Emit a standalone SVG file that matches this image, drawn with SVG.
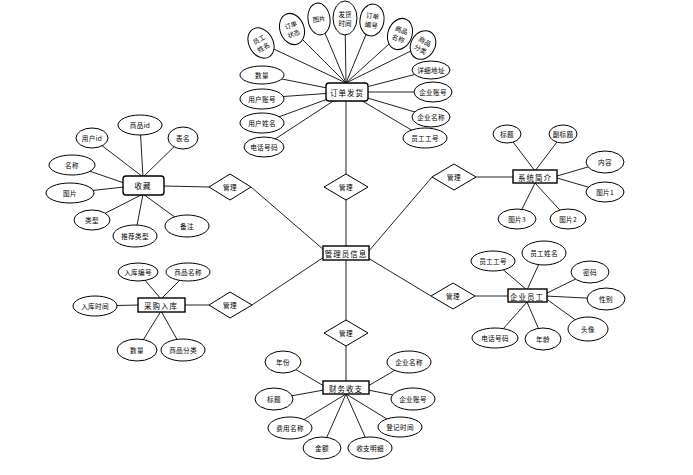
<svg xmlns="http://www.w3.org/2000/svg" width="693" height="475" viewBox="0 0 693 475">
<style>
text{font-family:"Noto Sans CJK SC","Liberation Sans",sans-serif;font-size:6.6px;letter-spacing:0.3px;fill:#000;text-anchor:middle;dominant-baseline:central}
.e{font-size:7.5px;letter-spacing:1px}
.s{font-family:"Liberation Serif","Noto Sans CJK SC",serif;font-size:6.5px;letter-spacing:0}
ellipse{fill:#fff;stroke:#000;stroke-width:1}
.ent{fill:#fff;stroke:#000;stroke-width:1.4}
.dia{fill:#fff;stroke:#000;stroke-width:1}
#connectors line{stroke:#222;stroke-width:1}
</style>
<rect width="693" height="475" fill="#fff"/>
<g id="connectors">
<line x1="261" y1="43" x2="346" y2="83"/><line x1="292" y1="29" x2="346" y2="83"/><line x1="319" y1="19" x2="346" y2="83"/><line x1="345" y1="19" x2="346" y2="83"/><line x1="372" y1="20" x2="346" y2="83"/><line x1="400" y1="34" x2="346" y2="83"/><line x1="423" y1="45" x2="346" y2="83"/>
<line x1="262" y1="75" x2="347" y2="92"/><line x1="262" y1="98" x2="347" y2="92"/><line x1="262" y1="123" x2="347" y2="92"/><line x1="263" y1="147" x2="347" y2="92"/>
<line x1="432" y1="70" x2="347" y2="92"/><line x1="433" y1="92" x2="347" y2="92"/><line x1="432" y1="117" x2="347" y2="92"/><line x1="425" y1="138" x2="347" y2="92"/>
<line x1="346" y1="100" x2="346" y2="247"/>
<line x1="346" y1="259" x2="346" y2="382"/>
<line x1="368" y1="252" x2="432" y2="177"/><line x1="476" y1="177" x2="513" y2="177"/>
<line x1="368" y1="258" x2="431" y2="296"/><line x1="475" y1="296" x2="510" y2="296"/>
<line x1="324" y1="250" x2="251" y2="187"/><line x1="209" y1="187" x2="164" y2="186"/>
<line x1="324" y1="257" x2="252" y2="305"/><line x1="209" y1="305" x2="185" y2="305"/>
<line x1="507" y1="134" x2="535" y2="171"/><line x1="563" y1="134" x2="535" y2="171"/><line x1="605" y1="162" x2="557" y2="176"/><line x1="605" y1="192" x2="557" y2="178"/><line x1="517" y1="219" x2="535" y2="183"/><line x1="568" y1="219" x2="535" y2="183"/>
<line x1="92" y1="138" x2="143" y2="177"/><line x1="140" y1="125" x2="143" y2="177"/><line x1="183" y1="138" x2="143" y2="177"/><line x1="72" y1="165" x2="124" y2="183"/><line x1="70" y1="193" x2="124" y2="187"/><line x1="92" y1="220" x2="143" y2="194"/><line x1="135" y1="236" x2="143" y2="194"/><line x1="187" y1="226" x2="143" y2="194"/>
<line x1="138" y1="272" x2="161" y2="299"/><line x1="188" y1="272" x2="161" y2="299"/><line x1="95" y1="306" x2="139" y2="305"/><line x1="137" y1="350" x2="161" y2="311"/><line x1="183" y1="350" x2="161" y2="311"/>
<line x1="493" y1="261" x2="527" y2="290"/><line x1="544" y1="253" x2="527" y2="290"/><line x1="590" y1="272" x2="545" y2="294"/><line x1="606" y1="299" x2="545" y2="296"/><line x1="588" y1="329" x2="545" y2="298"/><line x1="543" y1="339" x2="527" y2="302"/><line x1="495" y1="338" x2="527" y2="302"/>
<line x1="283" y1="362" x2="324" y2="386"/><line x1="274" y1="399" x2="324" y2="390"/><line x1="290" y1="428" x2="346" y2="394"/><line x1="322" y1="448" x2="346" y2="394"/><line x1="370" y1="448" x2="346" y2="394"/><line x1="400" y1="427" x2="346" y2="394"/><line x1="409" y1="362" x2="368" y2="386"/><line x1="413" y1="399" x2="368" y2="390"/>
</g>
<g id="order">
<rect class="ent" x="326" y="83" width="42" height="18" rx="3"/><text class="e" x="347" y="92">订单发货</text>
</g>
<g id="order-attrs">
<g transform="translate(261,43) rotate(-30)"><ellipse rx="12" ry="16"/><text class="s" y="-4">员工</text><text class="s" y="5">姓名</text></g>
<g transform="translate(292,29) rotate(-20)"><ellipse rx="12" ry="16"/><text class="s" y="-4">订单</text><text class="s" y="5">状态</text></g>
<g transform="translate(319,19) rotate(-8)"><ellipse rx="11" ry="16"/><text class="s">图片</text></g>
<g transform="translate(345,18)"><ellipse rx="12" ry="17"/><text class="s" y="-4">发货</text><text class="s" y="5">时间</text></g>
<g transform="translate(372,20) rotate(8)"><ellipse rx="12" ry="16"/><text class="s" y="-4">订单</text><text class="s" y="5">编号</text></g>
<g transform="translate(400,34) rotate(20)"><ellipse rx="12" ry="16"/><text class="s" y="-4">商品</text><text class="s" y="5">名称</text></g>
<g transform="translate(423,45) rotate(30)"><ellipse rx="12" ry="15"/><text class="s" y="-4">商品</text><text class="s" y="5">分类</text></g>
<ellipse cx="262" cy="75" rx="22" ry="9"/><text x="262" y="75">数量</text>
<ellipse cx="262" cy="99" rx="22" ry="10"/><text x="262" y="99">用户账号</text>
<ellipse cx="262" cy="123" rx="22" ry="10"/><text x="262" y="123">用户姓名</text>
<ellipse cx="264" cy="147" rx="20" ry="10"/><text x="264" y="147">电话号码</text>
<ellipse cx="431" cy="70" rx="19" ry="9"/><text x="431" y="70">详细地址</text>
<ellipse cx="433" cy="92" rx="19" ry="10"/><text x="433" y="92">企业账号</text>
<ellipse cx="431" cy="117" rx="19" ry="10"/><text x="431" y="117">企业名称</text>
<ellipse cx="425" cy="138" rx="22" ry="10"/><text x="425" y="138">员工工号</text>
</g>
<g id="admin">
<rect class="ent" x="323" y="246" width="46" height="14"/><text class="e" x="346" y="253">管理员信息</text>
</g>
<g id="rel-top"><polygon class="dia" points="346,174 368,187 346,200 324,187"/><text x="346" y="187">管理</text></g>
<g id="rel-intro"><polygon class="dia" points="454,164 476,177 454,190 432,177"/><text x="454" y="177">管理</text></g>
<g id="rel-emp"><polygon class="dia" points="453,283 475,296 453,309 431,296"/><text x="453" y="296">管理</text></g>
<g id="rel-fav"><polygon class="dia" points="230,174 251,187 230,200 209,187"/><text x="230" y="187">管理</text></g>
<g id="rel-stock"><polygon class="dia" points="230,292 252,305 230,318 209,305"/><text x="230" y="305">管理</text></g>
<g id="rel-fin"><polygon class="dia" points="346,320 368,333 346,346 324,333"/><text x="346" y="333">管理</text></g>
<g id="intro">
<rect class="ent" x="513" y="170" width="44" height="13"/><text class="e" x="535" y="177">系统简介</text>
<ellipse cx="507" cy="134" rx="14" ry="9"/><text x="507" y="134">标题</text>
<ellipse cx="563" cy="134" rx="14" ry="9"/><text x="563" y="134">副标题</text>
<ellipse cx="605" cy="162" rx="19" ry="11"/><text x="605" y="162">内容</text>
<ellipse cx="605" cy="192" rx="19" ry="10"/><text x="605" y="192">图片1</text>
<ellipse cx="517" cy="219" rx="19" ry="10"/><text x="517" y="219">图片3</text>
<ellipse cx="568" cy="219" rx="18" ry="10"/><text x="568" y="219">图片2</text>
</g>
<g id="fav">
<rect class="ent" x="123" y="176" width="41" height="19" rx="3"/><text class="e" x="143" y="185">收藏</text>
<ellipse cx="92" cy="138" rx="16" ry="10"/><text x="92" y="138">用户id</text>
<ellipse cx="140" cy="125" rx="22" ry="10"/><text x="140" y="125">商品id</text>
<ellipse cx="183" cy="138" rx="15" ry="11"/><text x="183" y="138">表名</text>
<ellipse cx="72" cy="165" rx="23" ry="10"/><text x="72" y="165">名称</text>
<ellipse cx="70" cy="193" rx="24" ry="10"/><text x="70" y="193">图片</text>
<ellipse cx="92" cy="220" rx="18" ry="10"/><text x="92" y="220">类型</text>
<ellipse cx="135" cy="236" rx="22" ry="11"/><text x="135" y="236">推荐类型</text>
<ellipse cx="187" cy="226" rx="22" ry="11"/><text x="187" y="226">备注</text>
</g>
<g id="stock">
<rect class="ent" x="138" y="298" width="47" height="14"/><text class="e" x="161" y="305">采购入库</text>
<ellipse cx="138" cy="272" rx="20" ry="9"/><text x="138" y="272">入库编号</text>
<ellipse cx="188" cy="272" rx="22" ry="9"/><text x="188" y="272">商品名称</text>
<ellipse cx="95" cy="306" rx="22" ry="10"/><text x="95" y="306">入库时间</text>
<ellipse cx="137" cy="350" rx="20" ry="11"/><text x="137" y="350">数量</text>
<ellipse cx="183" cy="350" rx="22" ry="11"/><text x="183" y="350">商品分类</text>
</g>
<g id="emp">
<rect class="ent" x="508" y="289" width="39" height="13"/><text class="e" x="527" y="296">企业员工</text>
<ellipse cx="493" cy="261" rx="22" ry="10"/><text x="493" y="261">员工工号</text>
<ellipse cx="544" cy="253" rx="22" ry="12"/><text x="544" y="253">员工姓名</text>
<ellipse cx="590" cy="272" rx="19" ry="11"/><text x="590" y="272">密码</text>
<ellipse cx="606" cy="299" rx="19" ry="11"/><text x="606" y="299">性别</text>
<ellipse cx="588" cy="329" rx="20" ry="12"/><text x="588" y="329">头像</text>
<ellipse cx="543" cy="339" rx="18" ry="11"/><text x="543" y="339">年龄</text>
<ellipse cx="495" cy="338" rx="23" ry="10"/><text x="495" y="338">电话号码</text>
</g>
<g id="fin">
<rect class="ent" x="323" y="381" width="46" height="13"/><text class="e" x="346" y="388">财务收支</text>
<ellipse cx="283" cy="362" rx="18" ry="11"/><text x="283" y="362">年份</text>
<ellipse cx="274" cy="399" rx="19" ry="11"/><text x="274" y="399">标题</text>
<ellipse cx="290" cy="428" rx="22" ry="11"/><text x="290" y="428">费用名称</text>
<ellipse cx="322" cy="448" rx="19" ry="11"/><text x="322" y="448">金额</text>
<ellipse cx="370" cy="448" rx="22" ry="11"/><text x="370" y="448">收支明细</text>
<ellipse cx="400" cy="427" rx="22" ry="10"/><text x="400" y="427">登记时间</text>
<ellipse cx="409" cy="362" rx="22" ry="11"/><text x="409" y="362">企业名称</text>
<ellipse cx="413" cy="399" rx="22" ry="11"/><text x="413" y="399">企业账号</text>
</g>
</svg>
